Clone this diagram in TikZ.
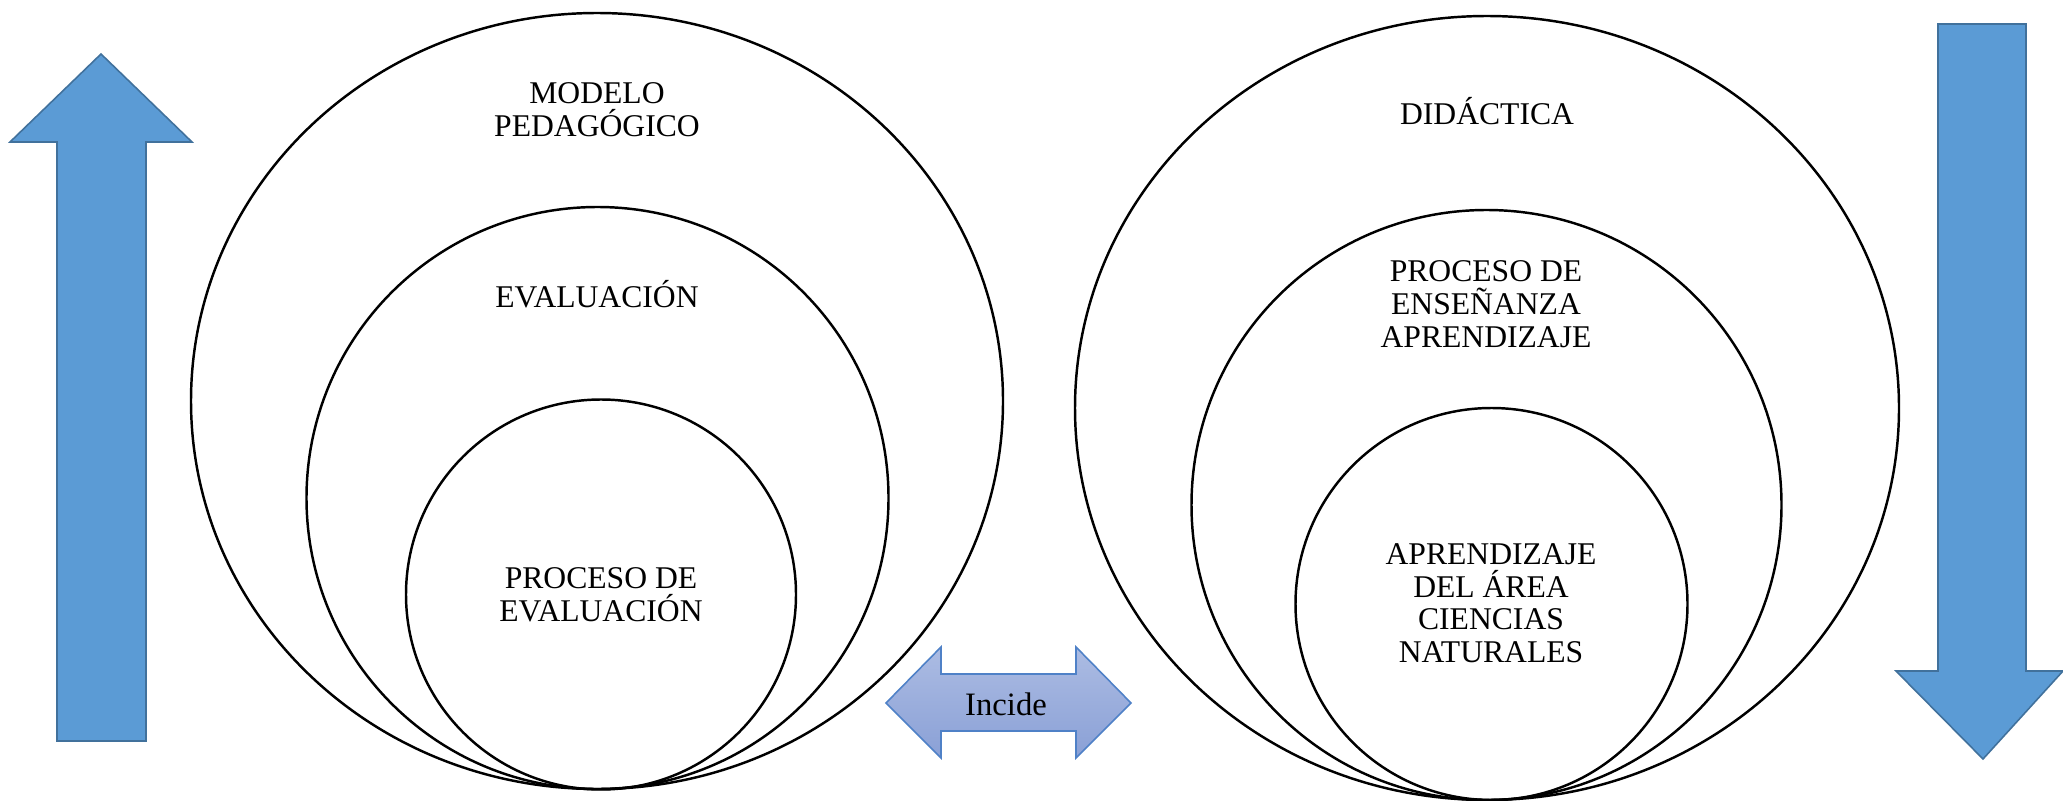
\documentclass[tikz,border=0pt]{standalone}
\usepackage{fontspec}
\setmainfont{Liberation Serif}
\usepackage{xcolor}
\usetikzlibrary{positioning, shapes.geometric, shapes.arrows}

\definecolor{arrowblue}{RGB}{91,155,213}
\definecolor{arrowedge}{RGB}{65,113,156}
\definecolor{incidetop}{RGB}{172,188,227}
\definecolor{incidebot}{RGB}{138,160,214}
\definecolor{incideedge}{RGB}{79,129,199}

\tikzset{
  ring/.style={draw=black, line width=1.4pt},
  bigarrow/.style={fill=arrowblue, draw=arrowedge, line width=0.9pt, line join=miter},
  label/.style={font=\fontsize{18}{18.7}\selectfont, align=center, inner sep=0pt}
}

\begin{document}
\begin{tikzpicture}[x=0.02cm, y=-0.02cm]
\useasboundingbox (0,0) rectangle (2063,801);

% Up arrow
\draw[bigarrow] (101,54) -- (192,142) -- (146,142) -- (146,741) -- (57,741) -- (57,142) -- (10,142) -- cycle;

% Down arrow
\draw[bigarrow] (1938,24) -- (2026,24) -- (2026,671) -- (2063,671) -- (1983,759) -- (1896,671) -- (1938,671) -- cycle;

% Left circles
\draw[ring] (597,401) ellipse [x radius=406, y radius=388];
\draw[ring] (597.5,498) circle [radius=291];
\draw[ring] (601,594.5) circle [radius=195];

\node[label, anchor=north] (modelo) at (597,82) {MODELO\\PEDAGÓGICO};
\node[label, anchor=base] (evaluacion) at (597,307) {EVALUACIÓN};
\node[label, anchor=north] (procEval) at (601,567) {PROCESO DE\\EVALUACIÓN};

% Right circles
\draw[ring] (1487,408) ellipse [x radius=412, y radius=392];
\draw[ring] (1486.5,505) circle [radius=295];
\draw[ring] (1491.5,604) circle [radius=196];

\node[label, anchor=base] (didactica) at (1487,124) {DIDÁCTICA};
\node[label, anchor=north] (ensenanza) at (1486,260) {PROCESO DE\\ENSEÑANZA\\APRENDIZAJE};
\node[label, anchor=north] (aprendizaje) at (1491,543) {APRENDIZAJE\\DEL ÁREA\\CIENCIAS\\NATURALES};

% Incide
\draw[top color=incidetop, bottom color=incidebot, draw=incideedge, line width=0.9pt]
  (886,703) -- (941,647) -- (941,674) -- (1076,674) -- (1076,647) -- (1131,703)
  -- (1076,758) -- (1076,731) -- (941,731) -- (941,758) -- cycle;
\node[label, font=\fontsize{18.6}{19}\selectfont, anchor=base] (incide) at (1006,715) {Incide};

\end{tikzpicture}
\end{document}
